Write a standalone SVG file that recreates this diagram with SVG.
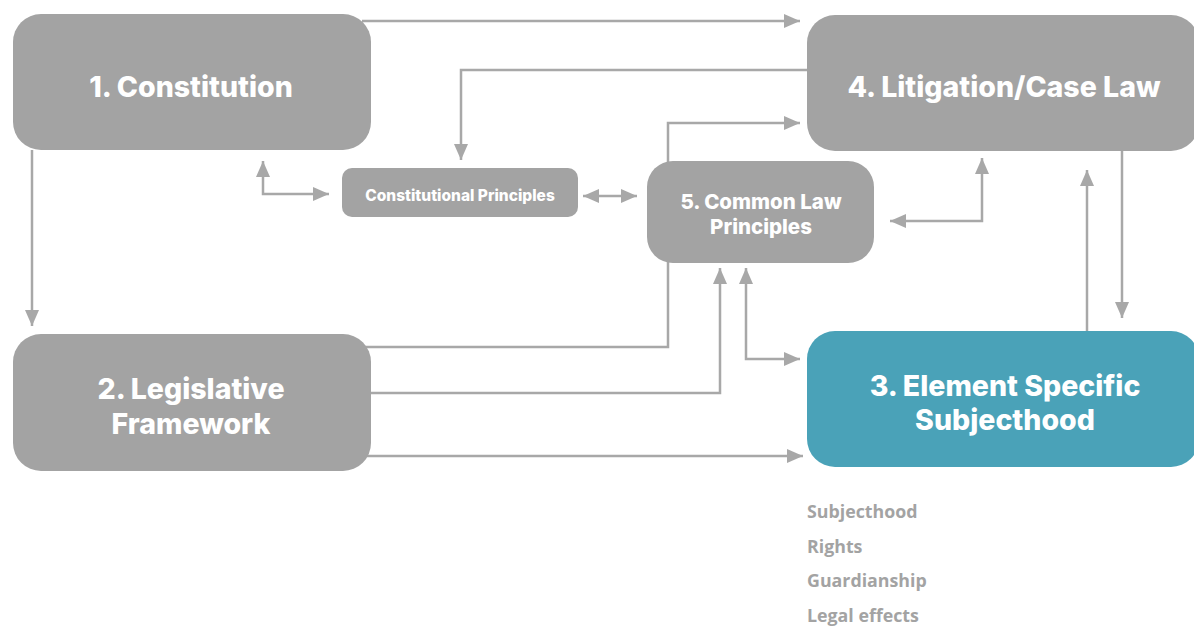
<svg xmlns="http://www.w3.org/2000/svg" width="1194" height="626" viewBox="0 0 1194 626">
<style>
.box{fill:#a3a3a3}
.teal{fill:#4aa2b8}
.t{font-family:Inter,"Noto Sans",sans-serif;font-weight:800;fill:#ffffff;text-anchor:middle}
.big{font-size:28.5px}
.mid{font-size:20.5px}
.sm{font-size:15.5px}
.c{fill:none;stroke:#a8a8a8;stroke-width:2.5}
.lst{font-family:"Open Sans","Noto Sans",sans-serif;font-weight:700;font-size:17.8px;fill:#a3a3a3}
</style>
<defs>
<marker id="ah" markerUnits="userSpaceOnUse" markerWidth="18" markerHeight="14" refX="16" refY="7" orient="auto-start-reverse">
<path d="M0,0 L16,7 L0,14 Z" fill="#a8a8a8"/>
</marker>
</defs>
<g id="connectors">
<path class="c" d="M362,21 H800" marker-end="url(#ah)"/>
<path class="c" d="M808,70 H461 V160" marker-end="url(#ah)"/>
<path class="c" d="M32,150 V326" marker-end="url(#ah)"/>
<path class="c" d="M263,161 V194 H329" marker-start="url(#ah)" marker-end="url(#ah)"/>
<path class="c" d="M583,196 H637" marker-start="url(#ah)" marker-end="url(#ah)"/>
<path class="c" d="M362,347 H668 V123 H800" marker-end="url(#ah)"/>
<path class="c" d="M371,393 H720 V268" marker-end="url(#ah)"/>
<path class="c" d="M746,268 V359 H800" marker-start="url(#ah)" marker-end="url(#ah)"/>
<path class="c" d="M362,456 H803" marker-end="url(#ah)"/>
<path class="c" d="M890,221 H982 V158" marker-start="url(#ah)" marker-end="url(#ah)"/>
<path class="c" d="M1122,151 V318" marker-end="url(#ah)"/>
<path class="c" d="M1087,331 V170" marker-end="url(#ah)"/>
</g>
<g id="n1">
<rect class="box" x="13" y="14" width="358" height="136" rx="28"/>
<text class="t big" x="191" y="97">1. Constitution</text>
</g>
<g id="n4">
<rect class="box" x="807" y="15" width="392" height="136" rx="28"/>
<text class="t big" x="1004" y="97">4. Litigation/Case Law</text>
</g>
<g id="ncp">
<rect class="box" x="342" y="168" width="236" height="49" rx="10"/>
<text class="t sm" x="460" y="201">Constitutional Principles</text>
</g>
<g id="n5">
<rect class="box" x="647" y="161" width="227" height="102" rx="26"/>
<text class="t mid" x="761" y="209">5. Common Law</text>
<text class="t mid" x="761" y="234">Principles</text>
</g>
<g id="n2">
<rect class="box" x="13" y="334" width="358" height="137" rx="28"/>
<text class="t big" x="191" y="399">2. Legislative</text>
<text class="t big" x="191" y="434">Framework</text>
</g>
<g id="n3">
<rect class="teal" x="807" y="331" width="392" height="136" rx="28"/>
<text class="t big" x="1005" y="396">3. Element Specific</text>
<text class="t big" x="1005" y="430">Subjecthood</text>
</g>
<g id="list">
<text class="lst" x="807" y="518">Subjecthood</text>
<text class="lst" x="807" y="553">Rights</text>
<text class="lst" x="807" y="587">Guardianship</text>
<text class="lst" x="807" y="622">Legal effects</text>
</g>
</svg>
